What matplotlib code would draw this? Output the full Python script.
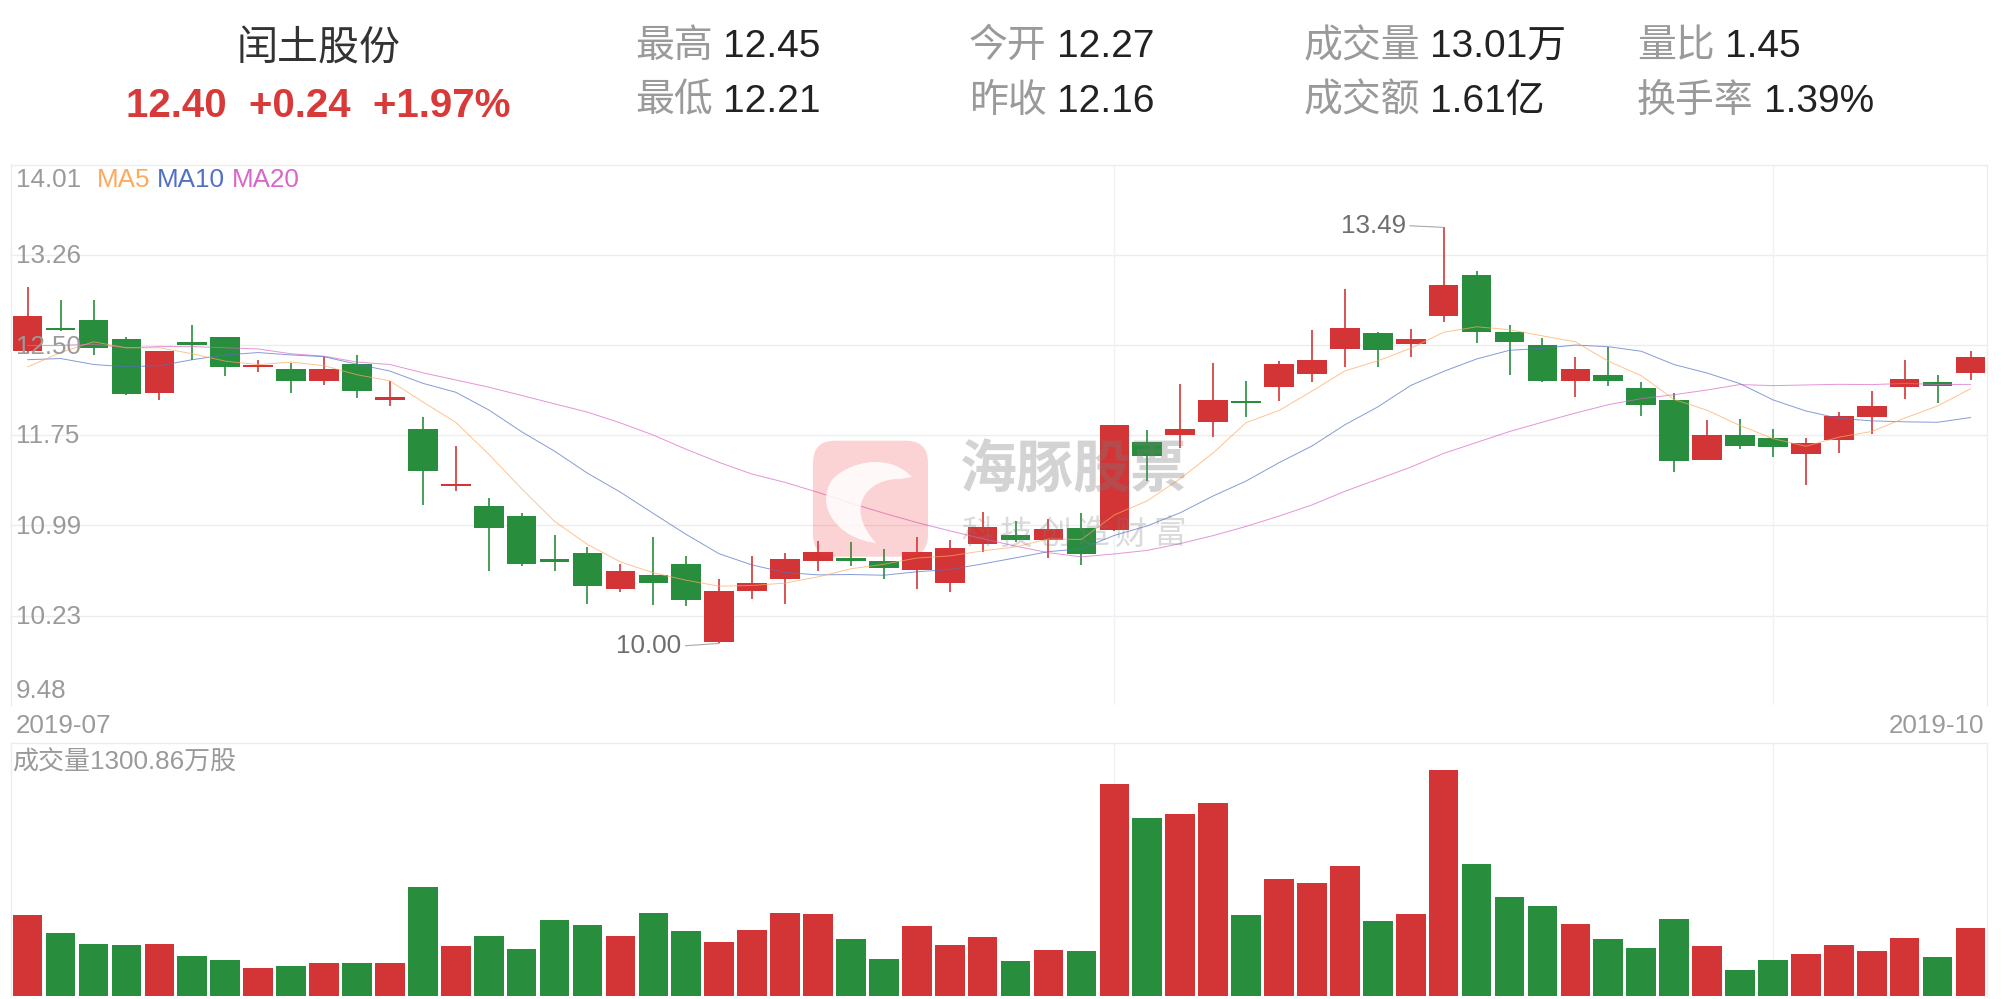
import numpy as np
import matplotlib
matplotlib.use("Agg")
import matplotlib.pyplot as plt
from matplotlib import transforms as mtrans
from matplotlib.patches import FancyBboxPatch, PathPatch
from matplotlib.path import Path

plt.rcParams['font.family'] = ['Liberation Sans', 'Noto Sans CJK SC']

W, H, DPI = 2001, 999, 100

# ---------------- data ----------------
stock_name = "闰土股份"
last_price = "12.40"
change = "+0.24"
change_pct = "+1.97%"
stats_row1 = [("最高", "12.45"), ("今开", "12.27"), ("成交量", "13.01万"), ("量比", "1.45")]
stats_row2 = [("最低", "12.21"), ("昨收", "12.16"), ("成交额", "1.61亿"), ("换手率", "1.39%")]

first_label = "2019-07"
last_label = "2019-10"
month_lines = [33, 53]          # candle indices where vertical grid lines sit

open_ = [12.45, 12.65, 12.71, 12.55, 12.10, 12.53, 12.57, 12.32, 12.30, 12.20,
         12.34, 12.05, 11.80, 11.32, 11.15, 11.07, 10.70, 10.76, 10.46, 10.57,
         10.67, 10.01, 10.44, 10.54, 10.69, 10.71, 10.69, 10.62, 10.51, 10.83,
         10.91, 10.87, 10.97, 10.95, 11.69, 11.75, 11.86, 12.03, 12.15, 12.26,
         12.47, 12.60, 12.51, 12.75, 13.09, 12.61, 12.50, 12.20, 12.25, 12.14,
         12.04, 11.54, 11.75, 11.72, 11.59, 11.71, 11.90, 12.15, 12.19, 12.27]
high = [12.99, 12.88, 12.88, 12.57, 12.45, 12.67, 12.57, 12.38, 12.35, 12.40,
        12.42, 12.20, 11.90, 11.66, 11.22, 11.09, 10.91, 10.81, 10.67, 10.89,
        10.73, 10.54, 10.73, 10.76, 10.86, 10.85, 10.79, 10.89, 10.87, 11.10,
        11.03, 11.04, 11.09, 11.83, 11.79, 12.18, 12.35, 12.20, 12.37, 12.63,
        12.97, 12.61, 12.64, 13.49, 13.12, 12.67, 12.56, 12.40, 12.49, 12.19,
        12.10, 11.87, 11.88, 11.80, 11.72, 11.94, 12.12, 12.38, 12.25, 12.45]
low = [12.43, 12.62, 12.42, 12.08, 12.04, 12.38, 12.24, 12.28, 12.10, 12.17,
       12.06, 11.99, 11.16, 11.28, 10.61, 10.65, 10.61, 10.33, 10.43, 10.32,
       10.31, 10.00, 10.37, 10.33, 10.61, 10.65, 10.54, 10.46, 10.43, 10.77,
       10.85, 10.72, 10.66, 10.94, 11.36, 11.64, 11.73, 11.90, 12.03, 12.19,
       12.32, 12.32, 12.40, 12.70, 12.52, 12.25, 12.19, 12.07, 12.16, 11.91,
       11.44, 11.54, 11.63, 11.56, 11.33, 11.60, 11.76, 12.05, 12.02, 12.21]
close = [12.75, 12.63, 12.48, 12.09, 12.45, 12.50, 12.32, 12.33, 12.20, 12.30,
         12.12, 12.06, 11.45, 11.34, 10.97, 10.67, 10.69, 10.48, 10.61, 10.51,
         10.36, 10.44, 10.51, 10.71, 10.77, 10.70, 10.63, 10.77, 10.80, 10.98,
         10.87, 10.96, 10.75, 11.83, 11.57, 11.80, 12.04, 12.02, 12.34, 12.38,
         12.65, 12.46, 12.55, 13.01, 12.61, 12.53, 12.20, 12.30, 12.20, 12.00,
         11.53, 11.75, 11.66, 11.65, 11.68, 11.91, 11.99, 12.22, 12.16, 12.40]
# volume in 万股
volume = [1550, 1205, 993, 974, 993, 762, 686, 532, 570, 628,
          628, 628, 2089, 955, 1147, 897, 1454, 1358, 1147, 1589,
          1243, 1032, 1262, 1589, 1570, 1089, 705, 1339, 974, 1128,
          666, 878, 859, 4068, 3415, 3492, 3703, 1550, 2242, 2166,
          2492, 1435, 1570, 4338, 2531, 1896, 1723, 1377, 1089, 916,
          1474, 955, 493, 686, 801, 974, 859, 1108, 743, 1301]
volume_label = "成交量1300.86万股"

# moving-average values before enough history is on the chart
ma5_head = [12.32, 12.44, 12.53, 12.48]
ma10_head = [12.38, 12.39, 12.34, 12.32, 12.33, 12.38, 12.42, 12.44, 12.42]
ma20_head = [12.50, 12.50, 12.51, 12.48, 12.49, 12.49, 12.48, 12.47, 12.43, 12.41,
             12.36, 12.34, 12.27, 12.21, 12.15, 12.08, 12.01, 11.94, 11.85]

price_ticks = [14.01, 13.26, 12.50, 11.75, 10.99, 10.23, 9.48]
price_min, price_max = 9.48, 14.01
vol_max = 4850
high_mark = (43, 13.49)
low_mark = (21, 10.00)

# ---------------- styles ----------------
RED = '#D33536'
GREEN = '#288D3C'
GRID = '#EBEDF3'
AXTXT = '#9A9A9A'
C_MA5 = '#FFA95E'
C_MA10 = '#5271C6'
C_MA20 = '#D966C8'


def moving_avg(vals, n, head):
    vals = np.asarray(vals, float)
    return list(head) + [float(vals[i - n + 1:i + 1].mean()) for i in range(n - 1, len(vals))]


def fx(x):
    return x / W


def fy(y):
    return 1 - y / H


fig = plt.figure(figsize=(W / DPI, H / DPI), dpi=DPI, facecolor='white')

# ---------------- price panel ----------------
L, R = 11.2, 1987.0
P_TOP, P_BOT = 165.4, 705.4
V_TOP, V_BOT = 743.3, 995.7
ax = fig.add_axes([fx(L), fy(P_BOT), (R - L) / W, (P_BOT - P_TOP) / H])
ax.set_xlim(-0.5, 59.5)
ax.set_ylim(price_min, price_max)
ax.set_axis_off()

for t in price_ticks[:-1]:
    ax.axhline(t, color=GRID, lw=1.0, zorder=0, clip_on=False)
ax.axvline(-0.5, color=GRID, lw=1.0, zorder=0, clip_on=False)
ax.axvline(59.5, color=GRID, lw=1.0, zorder=0, clip_on=False)
for m in month_lines:
    ax.axvline(m, color='#F0F1F6', lw=1.0, zorder=0)

o = np.array(open_)
c = np.array(close)
hi = np.array(high)
lo = np.array(low)
x = np.arange(len(o))
cols = np.where(c >= o, RED, GREEN)
ax.vlines(x, lo, hi, colors=cols, lw=1.2, zorder=2)
body = np.abs(c - o)
min_h = 0.02
bh = np.maximum(body, min_h)
bb = np.minimum(o, c) - (bh - body) / 2
ax.bar(x, bh, bottom=bb, width=0.9, color=cols, linewidth=0, zorder=3)

ma5 = moving_avg(close, 5, ma5_head)
ma10 = moving_avg(close, 10, ma10_head)
ma20 = moving_avg(close, 20, ma20_head)
ax.plot(x, ma20, color=C_MA20, lw=0.7, alpha=0.7, zorder=4)
ax.plot(x, ma10, color=C_MA10, lw=0.7, alpha=0.7, zorder=4)
ax.plot(x, ma5, color=C_MA5, lw=0.7, alpha=0.7, zorder=4)

# price tick labels (inside the plot)
AX_FS = 18.7
lab_tr = mtrans.blended_transform_factory(fig.transFigure, ax.transData)
for i, t in enumerate(price_ticks):
    if i == 0:
        dy = 21.4
    elif i == len(price_ticks) - 1:
        dy = -7.1
    else:
        dy = 8.3
    tr = mtrans.offset_copy(lab_tr, fig=fig, x=0, y=-dy, units='dots')
    ax.text(fx(16), t, f"{t:.2f}", transform=tr, ha='left', va='baseline',
            fontsize=AX_FS, color=AXTXT, zorder=6)

# MA legend
for label, xpos, col in [("MA5", 97, C_MA5), ("MA10", 156.5, C_MA10), ("MA20", 231.5, C_MA20)]:
    fig.text(fx(xpos), fy(186.8), label, ha='left', va='baseline', fontsize=AX_FS, color=col)

# high / low annotations
for (idx, val), yoff in [(high_mark, 1.8), (low_mark, -2.6)]:
    ax.annotate(f"{val:.2f}", xy=(idx, val), xytext=(-38, yoff), textcoords='offset pixels',
                ha='right', va='center', fontsize=AX_FS, color='#6E6E6E', zorder=7,
                arrowprops=dict(arrowstyle='-', color='#A8A8A8', lw=0.8,
                                shrinkA=1, shrinkB=0, relpos=(1, 0.5)))

# ---------------- volume panel ----------------
vx = fig.add_axes([fx(L), fy(V_BOT), (R - L) / W, (V_BOT - V_TOP) / H])
vx.set_xlim(-0.5, 59.5)
vx.set_ylim(0, vol_max)
vx.set_axis_off()
vx.axhline(vol_max, color=GRID, lw=1.0, zorder=0, clip_on=False)
vx.axvline(-0.5, color=GRID, lw=1.0, zorder=0, clip_on=False)
vx.axvline(59.5, color=GRID, lw=1.0, zorder=0, clip_on=False)
for m in month_lines:
    vx.axvline(m, color='#F0F1F6', lw=1.0, zorder=0)
vx.bar(x, volume, width=0.9, color=cols, linewidth=0, zorder=2)

fig.text(fx(12), fy(770), volume_label, ha='left', va='baseline', fontsize=AX_FS, color=AXTXT)

# x labels
fig.text(fx(16), fy(733.3), first_label, ha='left', va='baseline', fontsize=AX_FS, color=AXTXT)
fig.text(fx(1984), fy(733.3), last_label, ha='right', va='baseline', fontsize=AX_FS, color=AXTXT)

# ---------------- header ----------------
fig.text(fx(318.3), fy(60.5), stock_name, ha='center', va='baseline', fontsize=29.5, color='#333333')
fig.text(fx(318.3), fy(117), f"{last_price}  {change}  {change_pct}", ha='center', va='baseline',
         fontsize=29, fontweight='bold', color='#D83A3A')

HDR_FS = 28
EM = HDR_FS * DPI / 72
col_x = [635, 969, 1303.7, 1637]
for row, base in [(stats_row1, 57.3), (stats_row2, 111.7)]:
    for (lab, val), cx in zip(row, col_x):
        fig.text(fx(cx), fy(base), lab, ha='left', va='baseline', fontsize=HDR_FS, color='#9A9A9A')
        vxpos = cx + len(lab) * EM + 10.0
        fig.text(fx(vxpos), fy(base), val, ha='left', va='baseline', fontsize=HDR_FS, color='#222222')

# ---------------- watermark ----------------
wm = FancyBboxPatch((813, H - 556.7), 115, 116, boxstyle="round,pad=0,rounding_size=22",
                    transform=mtrans.IdentityTransform(), facecolor='#EE3A40', alpha=0.22,
                    edgecolor='none', zorder=10)
fig.add_artist(wm)


def P(xp, yp):
    return (xp, H - yp)


dolphin_verts = [P(832, 480),
                 P(848, 462), P(888, 452), P(912, 477),
                 P(900, 479),
                 P(870, 478), P(842, 505), P(876, 543),
                 P(836, 538), P(815, 505), P(832, 480),
                 P(832, 480)]
dolphin_codes = [Path.MOVETO,
                 Path.CURVE4, Path.CURVE4, Path.CURVE4,
                 Path.LINETO,
                 Path.CURVE4, Path.CURVE4, Path.CURVE4,
                 Path.CURVE4, Path.CURVE4, Path.CURVE4,
                 Path.CLOSEPOLY]
dolphin = PathPatch(Path(dolphin_verts, dolphin_codes), transform=mtrans.IdentityTransform(),
                    facecolor='white', edgecolor='none', alpha=0.85, zorder=10.5)
fig.add_artist(dolphin)

fig.text(fx(959), fy(472.5), "海豚股票", ha='left', va='center', fontsize=41, fontweight='bold',
         color='#7A7A7A', alpha=0.33, zorder=11)
for k, ch in enumerate("科技创造财富"):
    fig.text(fx(961 + k * 38.5), fy(535), ch, ha='left', va='center', fontsize=23.5,
             color='#7A7A7A', alpha=0.28, zorder=11)

fig.savefig("out.png", dpi=DPI, facecolor='white')
